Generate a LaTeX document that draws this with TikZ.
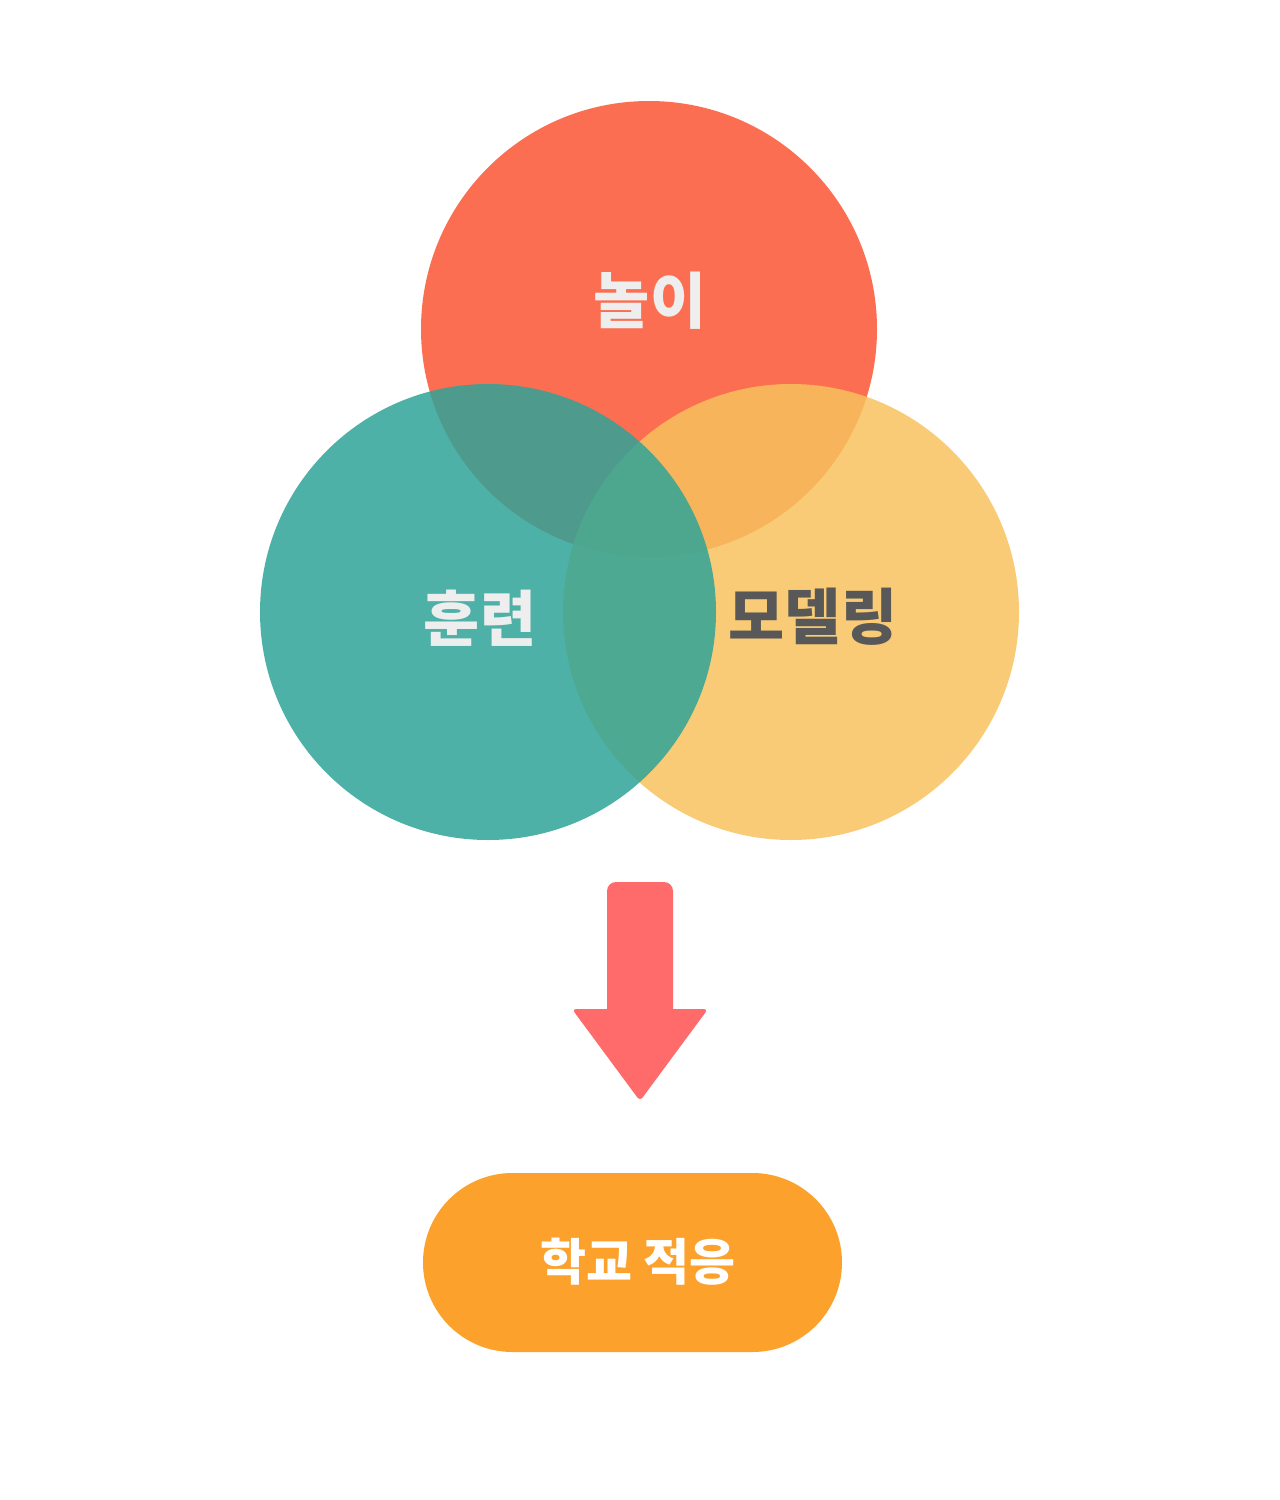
\documentclass[tikz,border=0pt]{standalone}
\usepackage{fontspec}
\usetikzlibrary{shapes.misc}
\newfontfamily\kr{Noto Sans CJK KR}
\definecolor{cred}{RGB}{252,110,81}
\definecolor{cyel}{RGB}{248,194,92}
\definecolor{cteal}{RGB}{48,164,152}
\definecolor{lighttxt}{RGB}{238,238,238}
\definecolor{darktxt}{RGB}{88,88,88}
\definecolor{arrowc}{RGB}{255,106,106}
\definecolor{pillc}{RGB}{252,161,44}
\tikzset{
  venn/.style={circle, minimum size=456pt, inner sep=0pt, draw=none},
  vlabel/.style={inner sep=0pt, font=\kr\bfseries\fontsize{61}{61}\selectfont},
  pilltext/.style={inner sep=0pt, text=white, font=\kr\bfseries\fontsize{50}{50}\selectfont}
}
\begin{document}
\begin{tikzpicture}[x=1pt,y=-1pt]
\useasboundingbox (0,0) rectangle (1280,1500);
\fill[white] (0,0) rectangle (1280,1500);
\node[venn, fill=cred] (play) at (649,329) {};
\node[venn, fill=cyel, fill opacity=0.84] (model) at (791,612) {};
\node[venn, fill=cteal, fill opacity=0.85] (train) at (488,612) {};
\node[vlabel, text=lighttxt] (playt) at (650,301) {놀이};
\node[vlabel, text=lighttxt] (traint) at (480,618) {훈련};
\node[vlabel, text=darktxt] (modelt) at (813,617) {모델링};
\fill[arrowc] (607,950) [rounded corners=9pt] -- (607,882) -- (673,882) -- (673,950) [sharp corners] -- (673,1009) [rounded corners=4pt] -- (708,1009) -- (640,1101) -- (572,1009) [sharp corners] -- (607,1009) -- cycle;
\node[rounded rectangle, fill=pillc, minimum width=419pt, minimum height=179pt, inner sep=0pt] (school) at (632.5,1262.5) {};
\node[pilltext] (schoolt) at (638,1262) {학교 적응};
\end{tikzpicture}
\end{document}
